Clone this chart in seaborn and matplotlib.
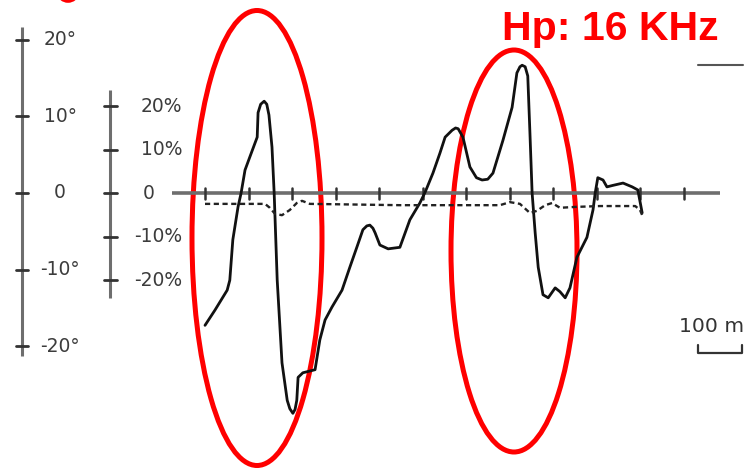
import numpy as np
import pandas as pd
import matplotlib
matplotlib.use("Agg")
import matplotlib.pyplot as plt
from matplotlib.patches import Ellipse
import seaborn as sns

# ---- data ----
# solid curve: distance along profile (m) vs angle (degrees)
solid_x = [0, 23, 51, 57, 64, 76, 83, 92, 103, 120, 122, 128, 136, 142, 147, 154, 159,
           166, 177, 189, 195, 202, 207, 211, 214, 225, 253, 264, 276, 292, 315, 333,
           349, 363, 372, 379, 386, 391, 402, 421, 448, 471, 494, 506, 524, 540, 552,
           568, 576, 582, 593, 609, 624, 637, 650, 662, 685, 706, 717, 724, 729, 736,
           742, 747, 752, 759, 766, 777, 789, 805, 816, 828, 839, 855, 878, 892, 897,
           903, 915, 924, 938, 961, 982, 995, 1005]
solid_deg = [-17.3, -15.3, -12.7, -11.4, -6.1, -1.8, 0.0, 3.0, 4.7, 7.3, 10.5, 11.6,
             12.0, 11.6, 10.2, 6.0, 0.0, -11.4, -22.2, -27.1, -28.2, -28.8, -28.3, -27.1,
             -24.1, -23.5, -23.1, -19.2, -16.6, -14.9, -12.7, -9.7, -7.1, -4.8, -4.3,
             -4.2, -4.6, -5.2, -6.8, -7.3, -7.1, -3.5, -1.3, 0.1, 2.6, 5.2, 7.3, 8.2,
             8.5, 8.4, 7.3, 3.4, 2.0, 1.7, 1.8, 2.6, 6.9, 11.2, 15.7, 16.5, 16.7, 16.5,
             15.3, 7.8, 0.0, -5.2, -9.7, -13.3, -13.7, -12.4, -12.9, -13.7, -12.4, -8.4,
             -5.8, -2.2, 0.0, 2.0, 1.7, 0.8, 1.0, 1.3, 0.8, 0.4, -2.6]

# dashed curve: distance (m) vs percent
dash_x = [0, 138, 149, 161, 177, 195, 211, 223, 241, 448, 678, 701, 724, 747, 763,
          782, 798, 816, 851, 908, 989, 1000, 1005]
dash_pct = [-2.5, -2.5, -3.4, -4.8, -5.1, -3.9, -2.3, -1.8, -2.5, -2.8, -2.8, -2.1,
            -2.5, -4.6, -4.1, -2.8, -2.3, -3.4, -3.2, -3.0, -3.0, -3.9, -5.1]

deg_ticks = [20, 10, 0, -10, -20]
deg_labels = ["20°", "10°", "0", "-10°", "-20°"]
pct_ticks = [20, 10, 0, -10, -20]
pct_labels = ["20%", "10%", "0", "-10%", "-20%"]
dist_ticks = list(range(0, 1200, 100))
title_text = "Hp: 16 KHz"
scale_text = "100 m"

# ---- figure ----
W, H = 747, 469
fig = plt.figure(figsize=(W / 100, H / 100), dpi=100)
sns.set_style("white")
ax = fig.add_axes([0, 0, 1, 1])
ax2 = ax.twinx()

# pixel mapping: x_px = 205 + 0.435*m ; y_px = 193 - 7.65*deg ; y_px = 193 - 4.35*pct
ax.set_xlim((0 - 205) / 0.435, (W - 205) / 0.435)
ax.set_ylim((193 - H) / 7.65, 193 / 7.65)
ax2.set_ylim((193 - H) / 4.35, 193 / 4.35)
for a in (ax, ax2):
    a.set_axis_off()

def px2m(px):
    return (px - 205) / 0.435

def py2deg(py):
    return (193 - py) / 7.65

axis_col = "#6e6e6e"
txt_col = "#3c3c3c"

# left (degree) axis
xl = px2m(22)
ax.plot([xl, xl], [py2deg(27), py2deg(356)], color=axis_col, lw=2.2, solid_capstyle="butt")
for t, lab in zip(deg_ticks, deg_labels):
    ax.plot([px2m(16), px2m(28)], [t, t], color="#333333", lw=2.0)
    ax.text(px2m(60), t, lab, ha="center", va="center", fontsize=13.5,
            color=txt_col, family="DejaVu Sans")

# second (percent) axis
xp = px2m(110)
ax2.plot([xp, xp], [(193 - 90) / 4.35, (193 - 298) / 4.35], color=axis_col, lw=2.2,
         solid_capstyle="butt")
for t, lab in zip(pct_ticks, pct_labels):
    ax2.plot([px2m(104), px2m(117)], [t, t], color="#333333", lw=2.0)
    if lab == "0":
        ax2.text(px2m(149), t, lab, ha="center", va="center", fontsize=13.5,
                 color=txt_col, family="DejaVu Sans")
    else:
        ax2.text(px2m(182), t, lab, ha="right", va="center", fontsize=13.5,
                 color=txt_col, family="DejaVu Sans")

# baseline with distance ticks
ax.plot([px2m(172), px2m(720)], [0, 0], color=axis_col, lw=2.6, solid_capstyle="butt")
for d in dist_ticks:
    ax.plot([d, d], [py2deg(188), py2deg(199)], color="#333333", lw=1.8)

# curves
sns.lineplot(x=dash_x, y=dash_pct, ax=ax2, sort=False, estimator=None,
             color="#222222", lw=1.7, linestyle=(0, (2.2, 1.5)))
sns.lineplot(x=solid_x, y=solid_deg, ax=ax, sort=False, estimator=None,
             color="#111111", lw=2.0)
ax.lines[-1].set_solid_joinstyle("round")

# small marks: top-right dash and scale bar
ax.plot([px2m(698), px2m(743)], [py2deg(65), py2deg(65)], color="#555555", lw=1.5)
ax.plot([px2m(698), px2m(698), px2m(742), px2m(742)],
        [py2deg(345), py2deg(353), py2deg(353), py2deg(345)], color="#333333", lw=1.6)
ax.text(px2m(679), py2deg(327), scale_text, ha="left", va="center", fontsize=14.6,
        color="#333333", family="DejaVu Sans")

# red annotations
e1 = Ellipse((257 / W, 1 - 238 / H), 130 / W, 455 / H, transform=ax.transAxes,
             fill=False, edgecolor="#ff0000", lw=3.6)
e2 = Ellipse((514 / W, 1 - 251 / H), 126 / W, 402 / H, transform=ax.transAxes,
             fill=False, edgecolor="#ff0000", lw=3.6)
ax.add_patch(e1)
ax.add_patch(e2)
# clipped fragment of a red mark at the very top edge
frag = Ellipse((68 / W, 1 + 7 / H), 18 / W, 16 / H, transform=ax.transAxes,
               fill=False, edgecolor="#ff0000", lw=2.6, clip_on=False)
ax.add_patch(frag)
fig.text(502 / W, 1 - 40 / H, title_text, ha="left", va="baseline", fontsize=29.5,
         fontweight="bold", color="#ff0000", family="Liberation Sans")

fig.savefig("out.png", dpi=100)
